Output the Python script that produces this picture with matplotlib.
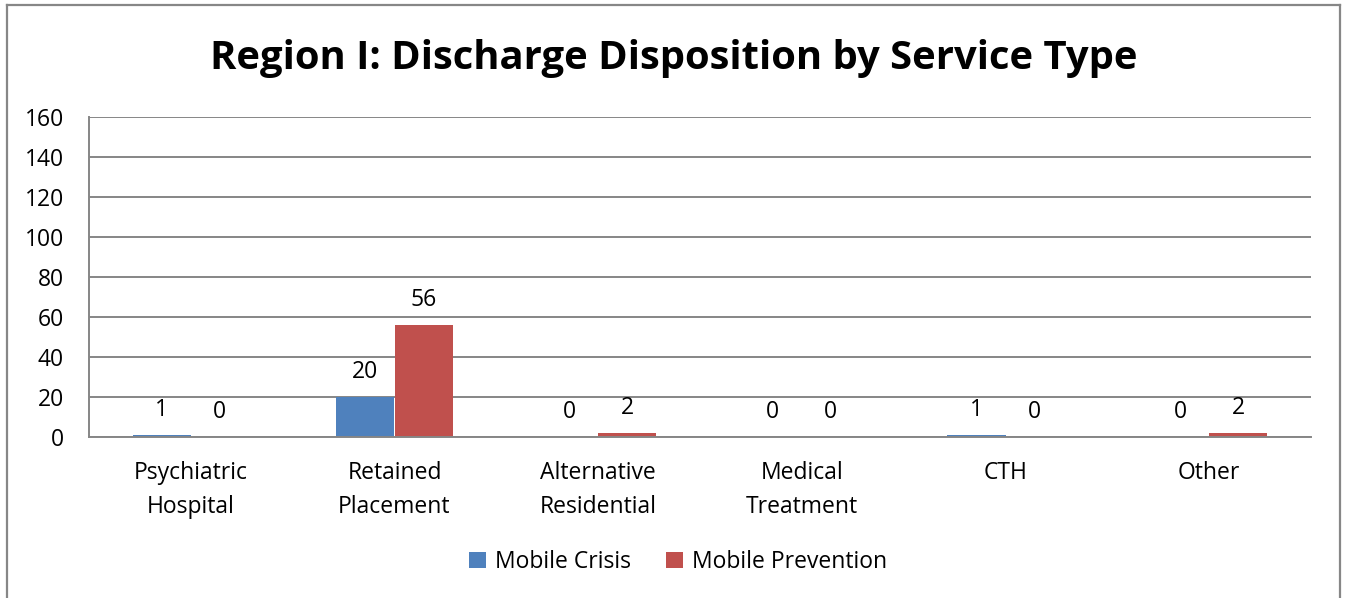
import matplotlib.pyplot as plt
from matplotlib.lines import Line2D
import numpy as np

categories = ['Psychiatric\nHospital', 'Retained\nPlacement', 'Alternative\nResidential',
              'Medical\nTreatment', 'CTH', 'Other']
mobile_crisis = [1, 20, 0, 0, 1, 0]
mobile_prevention = [0, 56, 2, 0, 0, 2]
y_ticks = [0, 20, 40, 60, 80, 100, 120, 140, 160]

plt.rcParams['font.family'] = ['Open Sans', 'DejaVu Sans']

W, H = 1347, 598
fig = plt.figure(figsize=(W / 100, H / 100), dpi=100)

# chart frame (bottom edge is cut off in the original)
frame = dict(color='#878787', lw=1.6, transform=fig.transFigure)
fig.add_artist(Line2D([7 / W, 7 / W], [0, 1 - 5 / H], **frame))
fig.add_artist(Line2D([7 / W, 1340 / W], [1 - 5 / H, 1 - 5 / H], **frame))
fig.add_artist(Line2D([1340 / W, 1340 / W], [0, 1 - 5 / H], **frame))

ax = fig.add_axes([89 / W, (H - 437) / H, (1311 - 89) / W, (437 - 117) / H])

x = np.arange(len(categories))
w = 0.285
b1 = ax.bar(x - w / 2, mobile_crisis, w, color='#4F81BD', label='Mobile Crisis')
b2 = ax.bar(x + w / 2, mobile_prevention, w, color='#C0504D', label='Mobile Prevention')
ax.bar_label(b1, padding=9, fontsize=16.5)
ax.bar_label(b2, padding=9, fontsize=16.5)

ax.set_xlim(-0.5, len(categories) - 0.5)
ax.set_ylim(0, 160)
ax.set_yticks(y_ticks)
ax.set_xticks(x)
ax.set_xticklabels(categories, fontsize=16.5, linespacing=1.58)
ax.tick_params(axis='y', length=0, pad=18, labelsize=16.5)
ax.tick_params(axis='x', length=0, pad=17)

ax.grid(axis='y', color='#868686', lw=1.4)
ax.set_axisbelow(True)
for s in ['top', 'right']:
    ax.spines[s].set_visible(False)
for s in ['left', 'bottom']:
    ax.spines[s].set_color('#868686')
    ax.spines[s].set_linewidth(1.4)

fig.text(0.5, 1 - 59 / H, 'Region I: Discharge Disposition by Service Type',
         ha='center', va='center', fontsize=28.8, fontweight='bold')

fig.legend(loc='center', bbox_to_anchor=(678 / W, 1 - 562 / H), ncol=2, frameon=False,
           fontsize=16.5, handlelength=0.75, handleheight=0.75, columnspacing=1.5,
           handletextpad=0.4)

fig.savefig('out.png', dpi=100)
